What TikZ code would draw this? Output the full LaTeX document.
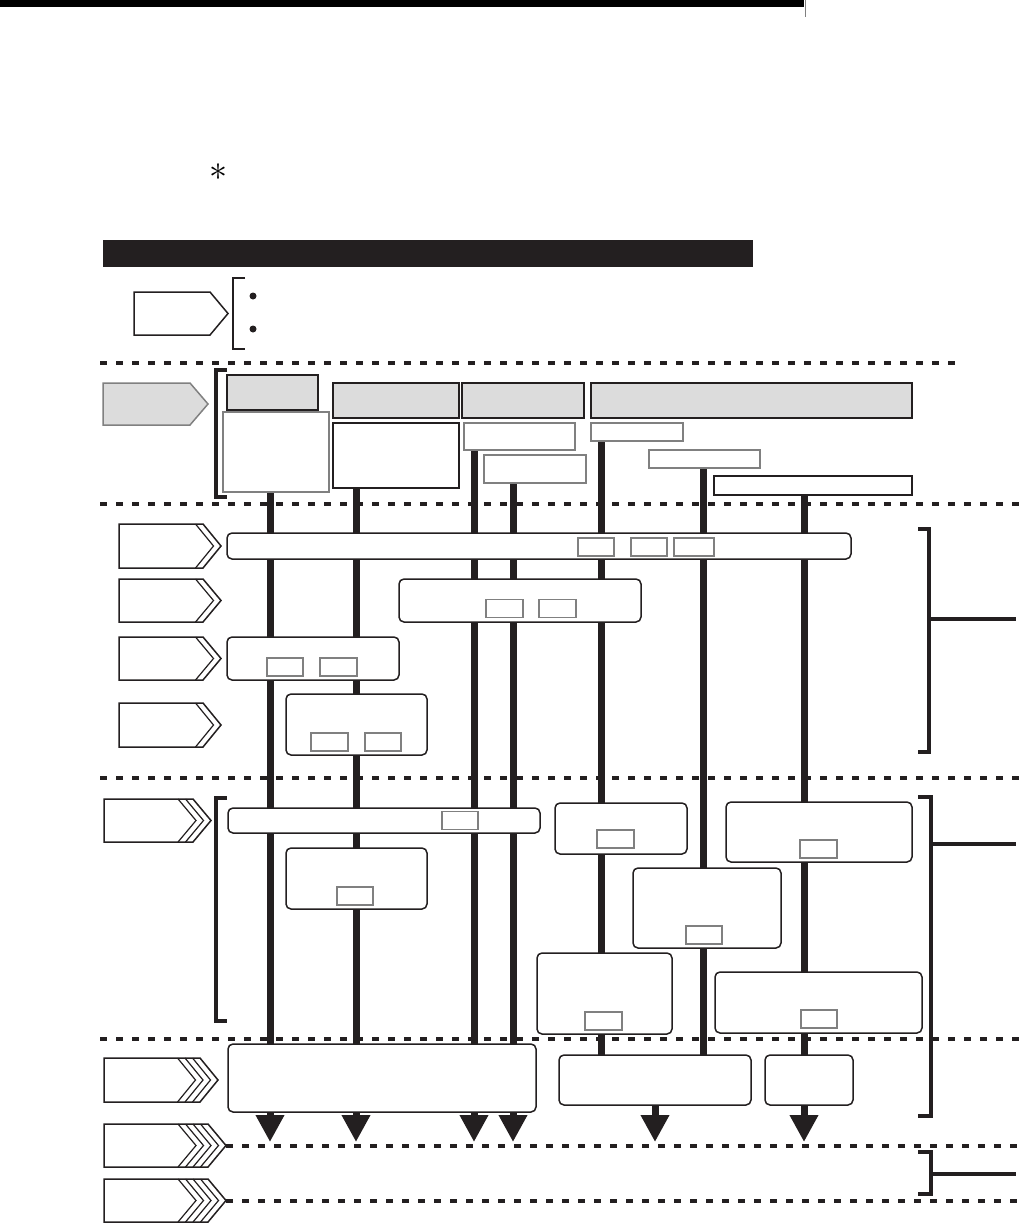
\documentclass[tikz,border=0pt]{standalone}
\usetikzlibrary{arrows.meta,backgrounds}
\definecolor{tinta}{HTML}{231F20}
\definecolor{grisclaro}{HTML}{DCDCDC}
\begin{document}
\begin{tikzpicture}[x=1pt, y=-1pt,
    caja/.style={draw=tinta, line width=1.5pt, rounded corners=5pt, fill=white, inner sep=0pt, outer sep=0pt},
    mini/.style={draw=gray, line width=1.2pt, fill=white, inner sep=0pt},
    cabecera/.style={draw=tinta, line width=2pt, fill=grisclaro, inner sep=0pt, outer sep=0pt},
    hoja/.style={draw=gray, line width=1.2pt, fill=white, inner sep=0pt, outer sep=0pt},
    flujo/.style={draw=tinta, line width=7pt},
    guion/.style={draw=tinta, line width=3.5pt, dash pattern=on 7pt off 9pt},
    corchete/.style={draw=tinta, line width=3.5pt}]
    \useasboundingbox (0,0) rectangle (1021,1224);
    % Barra superior
    \fill[black] (0,0) rectangle (804,7);
    \draw[gray, line width=1pt] (805,0) -- (805,17);
    \node[inner sep=0pt] (ast) at (218,172) {\scalebox{3.6}{$\ast$}};
    \fill[tinta] (103,240) rectangle (753,267);
    % Etiquetas (flechas)
    \foreach \l/\t/\h/\s/\n/\f/\d in {134/292/43/210/1/white/tinta, 103/383/42/190/1/grisclaro/gray,
        119/524/44/203/2/white/tinta, 119/579/43/203/2/white/tinta, 119/637/43/203/2/white/tinta,
        119/703/44/203/2/white/tinta, 104/799/43/193/3/white/tinta, 104/1058/44/200/4/white/tinta,
        104/1124/43/208/5/white/tinta, 104/1179/43/208/5/white/tinta}{
      \draw[\d, line width=1.5pt, fill=\f] (\l,\t) -- (\s,\t) -- (\s+18,\t+\h/2) -- (\s,\t+\h) -- (\l,\t+\h) -- cycle;
      \foreach \k in {1,...,4}{\ifnum\k<\n \draw[tinta, line width=1.2pt] (\s-7.5*\k,\t) -- ++(18,\h/2) -- ++(-18,\h/2);\fi}
    }
    % Puntos y corchetes
    \fill[tinta] (253,296) circle (3.5) (253,329) circle (3.5);
    \draw[tinta, line width=2pt] (245,278) -- (233,278) -- (233,349) -- (245,349);
    \draw[corchete] (227,370) -- (216,370) -- (216,497) -- (227,497);
    \draw[corchete] (227,798) -- (216,798) -- (216,1021) -- (227,1021);
    \draw[corchete] (918,529) -- (929,529) -- (929,752) -- (918,752) (929,619) -- (1016,619);
    \draw[corchete] (918,797) -- (931,797) -- (931,1116) -- (918,1116) (931,844) -- (1016,844);
    \draw[corchete] (918,1152) -- (931,1152) -- (931,1194) -- (918,1194) (931,1174) -- (1016,1174);
    % Lineas discontinuas
    \draw[guion] (100,363) -- (957,363);
    \foreach \y in {504,778,1039} \draw[guion] (100,\y) -- (1021,\y);
    \draw[guion] (226,1146) -- (1021,1146);
    \draw[guion] (226,1201) -- (1021,1201);
    % Cabeceras
    \node[cabecera, minimum width=91, minimum height=35] (ga) at (272.5,392.5) {};
    \node[cabecera, minimum width=126, minimum height=35] (gb) at (396,400.5) {};
    \node[cabecera, minimum width=122, minimum height=35] (gc) at (523,400.5) {};
    \node[cabecera, minimum width=321, minimum height=35] (gd) at (751.5,400.5) {};
    \node[hoja, minimum width=106, minimum height=80] (wa) at (276,452) {};
    \node[hoja, draw=tinta, minimum width=126, minimum height=65] (wb) at (396,455.5) {};
    \node[hoja, minimum width=111, minimum height=27] (wc1) at (519.5,436.5) {};
    \node[hoja, minimum width=102, minimum height=28] (wc2) at (535,469) {};
    \node[hoja, minimum width=92, minimum height=18] (wd1) at (637,432) {};
    \node[hoja, minimum width=111, minimum height=18] (wd2) at (704.5,459) {};
    \node[hoja, draw=tinta, minimum width=198, minimum height=19] (wd3) at (813,485.5) {};
    % Bloques
    \node[caja, minimum width=624, minimum height=26] (r1) at (539,546) {};
    \node[caja, minimum width=242, minimum height=43] (r2) at (520,600.5) {};
    \node[caja, minimum width=172, minimum height=43] (r3) at (313,658.5) {};
    \node[caja, minimum width=141, minimum height=61] (r4) at (356.5,724.5) {};
    \node[caja, minimum width=312, minimum height=25] (s1) at (384,820.5) {};
    \node[caja, minimum width=141, minimum height=61] (s2) at (356.5,878.5) {};
    \node[caja, minimum width=132, minimum height=51] (s3) at (621,828.5) {};
    \node[caja, minimum width=186, minimum height=60] (s4) at (819,832) {};
    \node[caja, minimum width=148, minimum height=80] (s5) at (707,908) {};
    \node[caja, minimum width=135, minimum height=81] (s6) at (604.5,993.5) {};
    \node[caja, minimum width=207, minimum height=61] (s7) at (818.5,1002.5) {};
    \node[caja, minimum width=308, minimum height=68] (t1) at (382,1078) {};
    \node[caja, minimum width=192, minimum height=50] (t2) at (655,1080) {};
    \node[caja, minimum width=88, minimum height=50] (t3) at (809,1080) {};
    % Recuadros pequenos
    \foreach \x/\y/\w [count=\i] in {596/547/36, 649/547/36, 694/547/40, 504.5/608.5/37, 557.5/608.5/37,
        285/667/36, 338.5/667/37, 329.5/742/37, 383/742/36, 460/820.5/36, 355/896/36,
        615.5/839/37, 818.5/849/37, 704/935/36, 603.5/1021/37, 819/1019/36}
      \node[mini, minimum width=\w, minimum height=18] (m\i) at (\x,\y) {};
    % Columnas y flechas
    \foreach \n/\x in {1/270,2/356,3/474,4/513,5/601,6/703,7/804} \coordinate (c\n) at (\x,0);
    \coordinate (fin) at (0,1142);
    \begin{pgfonlayer}{background}
      \foreach \c/\a/\b in {c1/wa/t1, c2/wb/t1, c3/wc1/t1, c4/wc2/t1, c5/wd1/t2, c6/wd2/t2, c7/wd3/t3}
        \draw[flujo] (\a.south -| \c) -- (\b.north -| \c);
    \end{pgfonlayer}
    \foreach \c/\b in {c1/t1, c2/t1, c3/t1, c4/t1, c7/t3}
      \draw[flujo, -{Triangle[length=27pt, width=27pt]}] (\b.south -| \c) -- (\c |- fin);
    \draw[flujo, -{Triangle[length=27pt, width=27pt]}] (t2.south) -- (t2.south |- fin);
\end{tikzpicture}
\end{document}
